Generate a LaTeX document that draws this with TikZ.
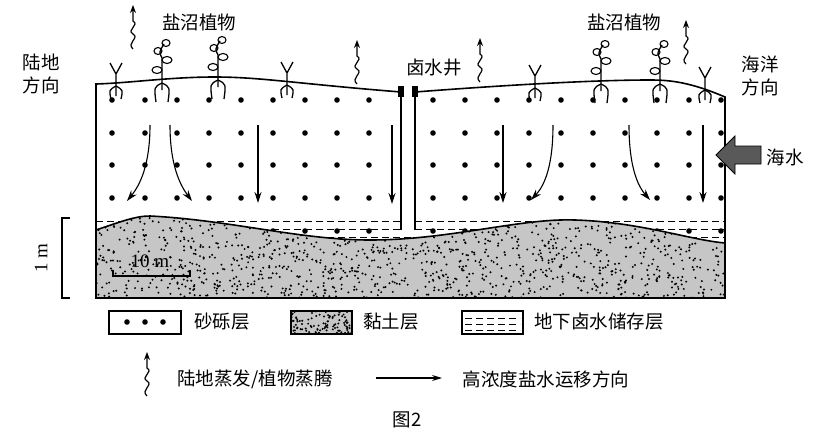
\documentclass[tikz,border=0pt]{standalone}
\usepackage{fontspec}
\newfontfamily\cjk{Noto Sans CJK SC}
\setmainfont{Liberation Serif}
\usetikzlibrary{arrows.meta}
\begin{document}
\begin{tikzpicture}[x=1pt,y=-1pt,
  lab/.style={font=\cjk\fontsize{18.5}{23}\selectfont,inner sep=0pt,align=center},
  flow/.style={-{Stealth[length=11pt,width=7pt]},line width=1.1pt},
  evap/.style={line width=1.2pt},
  dsh/.style={dash pattern=on 7pt off 4pt,line width=0.9pt}]
\useasboundingbox (0,0) rectangle (814,447);
\def\evap#1#2{\draw[evap,-{Stealth[length=8pt,width=6pt]}] (#1,#2+44) .. controls (#1-7,#2+38) and (#1+7,#2+33) .. (#1,#2+29) .. controls (#1-7,#2+25) and (#1+7,#2+20) .. (#1,#2+16) -- (#1,#2);}
% dashed brine layer
\draw[dsh] (96,221) -- (725,221);
\draw[dsh] (96,229) -- (725,229);
\draw[dsh] (96,237) -- (725,237);
% sand dots
\foreach \x in {112,145,177,209,241,273,305,337,369,433,465,497,529,561,593,625,657,689,721}
  \foreach \y in {100,133,165,198,231} \fill (\x,\y) circle (2.8pt);
% clay
\fill[gray!45] (96,230) .. controls (120,222) and (135,216) .. (150,216) .. controls (230,220) and (300,240) .. (370,240) .. controls (450,240) and (520,218) .. (575,220) .. controls (640,222) and (690,240) .. (725,243) -- (725,298) -- (96,298) -- cycle;
\begin{scope}
\clip (96,230) .. controls (120,222) and (135,216) .. (150,216) .. controls (230,220) and (300,240) .. (370,240) .. controls (450,240) and (520,218) .. (575,220) .. controls (640,222) and (690,240) .. (725,243) -- (725,298) -- (96,298) -- cycle;
\pgfmathsetseed{7}
\foreach \i in {1,...,1300}{\pgfmathsetmacro\rx{96+629*rnd}\pgfmathsetmacro\ry{214+84*rnd}\fill (\rx,\ry) circle (1.1pt);}
\end{scope}
\draw[line width=1.6pt] (96,230) .. controls (120,222) and (135,216) .. (150,216) .. controls (230,220) and (300,240) .. (370,240) .. controls (450,240) and (520,218) .. (575,220) .. controls (640,222) and (690,240) .. (725,243);
% box
\draw[line width=1.6pt] (401,92) .. controls (300,84) and (260,77) .. (215,77) .. controls (170,77) and (130,83) .. (96,84) -- (96,298) -- (725,298) -- (725,97) .. controls (690,82) and (670,80) .. (650,80) .. controls (600,80) and (520,84) .. (415,92);
% well
\fill[white] (402,90) rectangle (414,232);
\draw[line width=1.3pt] (401,88) -- (401,230) (415,88) -- (415,230);
\fill (398,86) rectangle (404,97); \fill (412,86) rectangle (418,97);
% flow arrows
\draw[flow] (150,125) .. controls (150,165) and (140,185) .. (127,201);
\draw[flow] (170,125) .. controls (170,165) and (180,185) .. (192,201);
\draw[flow] (258,125) -- (258,203);
\draw[flow] (392,125) -- (392,204);
\draw[flow] (503,125) -- (503,203);
\draw[flow] (553,125) .. controls (553,165) and (545,185) .. (531,200);
\draw[flow] (629,125) .. controls (629,165) and (637,185) .. (650,200);
\draw[flow] (703,125) -- (703,203);
% plants
\foreach \x/\s in {116/84,287/83,535/86,705/88}{
 \draw[line width=1.3pt] (\x,\s+12) -- (\x,\s-10) (\x,\s-10) -- (\x-6,\s-21) (\x,\s-10) -- (\x+6,\s-21);
 \draw[line width=1.3pt] (\x,\s+2) .. controls (\x-7,\s+6) .. (\x-5,\s+15) (\x,\s+2) .. controls (\x+7,\s+6) .. (\x+5,\s+15);}
\foreach \x/\s in {162/80,218/77,601/81,660/81}{
 \draw[line width=1.3pt] (\x,\s+10) -- (\x,\s-22) .. controls (\x-3,\s-28) .. (\x+2,\s-36);
 \draw[line width=1.1pt] (\x-5,\s-10) ellipse (5pt and 3.5pt) (\x+5,\s-20) ellipse (5pt and 3.5pt) (\x-4,\s-29) ellipse (4pt and 3.5pt) (\x+4,\s-37) ellipse (4pt and 3.5pt);
 \draw[line width=1.3pt] (\x,\s+3) .. controls (\x-8,\s+7) .. (\x-6,\s+22) (\x,\s+3) .. controls (\x+8,\s+7) .. (\x+6,\s+22);}
% evaporation
\evap{133}{5}
\evap{357}{40}
\evap{480}{38}
\evap{686}{20}
% labels
\node[lab] at (199,22) {盐沼植物};
\node[lab] at (624,22) {盐沼植物};
\node[lab] at (41,74) {陆地\\方向};
\node[lab] at (760,76) {海洋\\方向};
\node[lab] at (434,68) {卤水井};
\node[lab] at (785,157) {海水};
% sea arrow
\draw[fill=gray!70!black,draw=black,line width=0.8pt] (716,155) -- (735,136) -- (735,146) -- (761,146) -- (761,164) -- (735,164) -- (735,174) -- cycle;
% 1 m scale
\draw[line width=1.3pt] (70,218) -- (62,218) -- (62,298) -- (70,298);
\node[font=\fontsize{19}{22}\selectfont,rotate=90] at (41,258) {1 m};
% 10 m scale
\draw[line width=1.3pt] (113,270) -- (113,276) -- (190,276) -- (190,270);
\node[font=\fontsize{19}{22}\selectfont] at (150,261) {10 m};
% legend
\draw[line width=1.3pt] (109,311) rectangle (181,334);
\foreach \x in {127,145,163} \fill (\x,322) circle (2.8pt);
\node[lab] at (222,322) {砂砾层};
\fill[gray!45] (291,311) rectangle (352,334);
\begin{scope}\clip (291,311) rectangle (352,334);
\pgfmathsetseed{3}
\foreach \i in {1,...,100}{\pgfmathsetmacro\rx{291+61*rnd}\pgfmathsetmacro\ry{311+23*rnd}\fill (\rx,\ry) circle (1.1pt);}
\end{scope}
\draw[line width=1.3pt] (291,311) rectangle (352,334);
\node[lab] at (391,322) {黏土层};
\draw[line width=1.3pt] (462,311) rectangle (523,334);
\draw[dsh] (465,318) -- (520,318) (465,324) -- (520,324) (465,330) -- (520,330);
\node[lab] at (599,322) {地下卤水储存层};
\evap{147}{352}
\node[lab] at (255,379) {陆地蒸发/植物蒸腾};
\draw[-{Stealth[length=10pt,width=6pt]},line width=1.1pt] (376,378) -- (442,378);
\node[lab] at (546,379) {高浓度盐水运移方向};
\node[lab] at (407,420) {图2};
\end{tikzpicture}
\end{document}
